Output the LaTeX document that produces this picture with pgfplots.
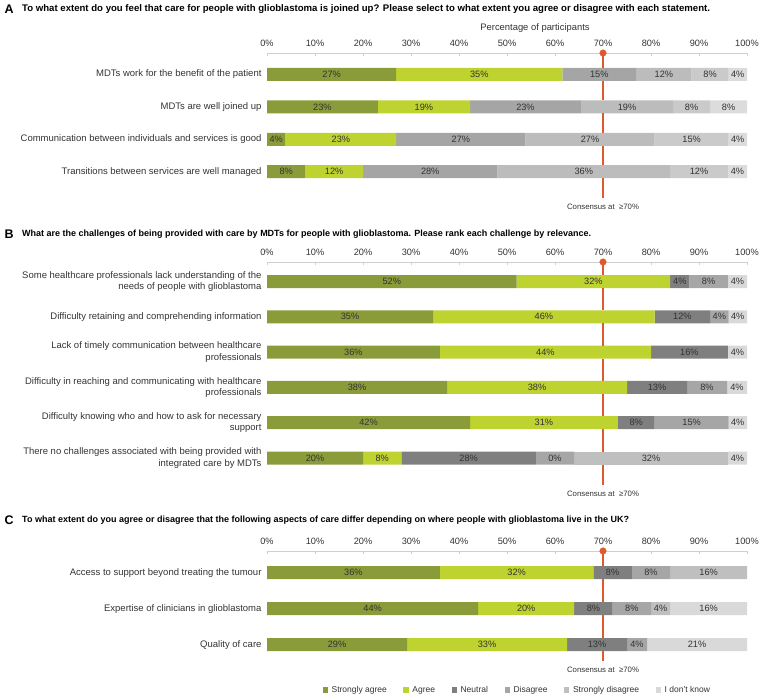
\documentclass[border=0pt]{standalone}
\usepackage{fontspec}
\setmainfont{Liberation Sans}
\usepackage{pgfplots}
\usepackage{pgfplotstable}
\pgfplotsset{compat=1.18}

\definecolor{csa}{HTML}{8A9B3A}
\definecolor{ca}{HTML}{BED230}
\definecolor{cn}{HTML}{7F7F7F}
\definecolor{cd}{HTML}{A6A6A6}
\definecolor{csd}{HTML}{BFBFBF}
\definecolor{cidk}{HTML}{D9D9D9}
\definecolor{ga}{HTML}{A5A5A5}
\definecolor{gb}{HTML}{BCBCBC}
\definecolor{gc}{HTML}{CACACA}
\definecolor{gd}{HTML}{DCDCDC}
\definecolor{cons}{HTML}{DD5A2E}
\definecolor{txt}{HTML}{333333}
\definecolor{axc}{HTML}{CFCFCF}

% Panel A (values = share of respondents, %)
\pgfplotstableread{
row sa a g1 g2 g3 g4
0 26.923 34.615 15.385 11.538 7.692 3.846
-1 23.077 19.231 23.077 19.231 7.692 7.692
-2 3.846 23.077 26.923 26.923 15.385 3.846
-3 8 12 28 36 12 4
}\tabA
\pgfplotstableread{
x y lab
13.462 0 27
44.231 0 35
69.231 0 15
82.692 0 12
92.308 0 8
98.077 0 4
11.538 -1 23
32.692 -1 19
53.846 -1 23
75.000 -1 19
88.462 -1 8
96.154 -1 8
1.923 -2 4
15.385 -2 23
40.385 -2 27
67.308 -2 27
88.462 -2 15
98.077 -2 4
4 -3 8
14 -3 12
34 -3 28
66 -3 36
90 -3 12
98 -3 4
}\labA

% Panel B
\pgfplotstableread{
row sa a n d sd idk
0 52 32 4 8 0 4
-1 34.615 46.154 11.538 3.846 0 3.846
-2 36 44 16 0 0 4
-3 37.5 37.5 12.5 8.333 0 4.167
-4 42.308 30.769 7.692 15.385 0 3.846
-5 20 8 28 8 32 4
}\tabB
\pgfplotstableread{
x y lab
26 0 52
68 0 32
86 0 4
92 0 8
98 0 4
17.308 -1 35
57.692 -1 46
86.538 -1 12
94.231 -1 4
98.077 -1 4
18 -2 36
58 -2 44
88 -2 16
98 -2 4
18.75 -3 38
56.25 -3 38
81.25 -3 13
91.667 -3 8
97.917 -3 4
21.154 -4 42
57.692 -4 31
76.923 -4 8
88.462 -4 15
98.077 -4 4
10 -5 20
24 -5 8
42 -5 28
60 -5 0
80 -5 32
98 -5 4
}\labB

% Panel C
\pgfplotstableread{
row sa a n d sd idk
0 36 32 8 8 16 0
-1 44 20 8 8 4 16
-2 29.167 33.333 12.5 4.167 0 20.833
}\tabC
\pgfplotstableread{
x y lab
18 0 36
52 0 32
72 0 8
80 0 8
92 0 16
22 -1 44
54 -1 20
68 -1 8
76 -1 8
82 -1 4
92 -1 16
14.583 -2 29
45.833 -2 33
68.75 -2 13
77.083 -2 4
89.583 -2 21
}\labC

\pgfplotsset{
  base/.style={scale only axis, width=480pt, xmin=0, xmax=100, enlargelimits=false, clip=false},
  over/.style={base, hide axis},
  bars/.style={
    base, xbar stacked, bar width=13pt,
    axis x line*=top, axis y line*=left,
    y axis line style={draw=none}, ytick style={draw=none},
    x axis line style={draw=axc, line width=0.6pt},
    xtick={0,10,...,100},
    xticklabels={0\%,10\%,20\%,30\%,40\%,50\%,60\%,70\%,80\%,90\%,100\%},
    xtick style={draw=axc, line width=0.6pt},
    major tick length=3pt, tick align=inside,
    xticklabel style={font=\fontsize{9.2}{10}\selectfont, text=txt, anchor=base, yshift=6.5pt},
    yticklabel style={font=\fontsize{9.5}{11.5}\selectfont, text=txt, align=right, xshift=-2pt},
  },
  seg/.style={draw=none, legend image code/.code={\fill (0pt,-2.6pt) rectangle (5.2pt,2.6pt); \path (-0.5pt,0pt) (7pt,0pt);}},
  labs/.style={only marks, mark=*, mark size=0pt, mark options={draw=none, fill=none},
    nodes near coords={\pgfplotspointmeta\%}, point meta=explicit symbolic,
    every node near coord/.append style={anchor=center, font=\fontsize{9.2}{10}\selectfont, text=txt}},
  reddot/.style={only marks, mark=*, mark size=3.3pt, color=cons},
}
\tikzset{consl/.style={below=2.5pt, font=\fontsize{7.8}{9}\selectfont, text=txt},
  redline/.style={draw=cons, line width=1.1pt}}

\begin{document}
\begin{tikzpicture}
\useasboundingbox (0,0) rectangle (759pt,697pt);

% ---------- titles ----------
\node[anchor=west, inner sep=0pt, font=\bfseries\fontsize{12.5}{14}\selectfont] at (4.5pt,688pt) {A};
\node[anchor=west, inner sep=0pt, font=\bfseries\fontsize{9.6}{11}\selectfont] at (22pt,688pt) {To what extent do you feel that care for people with glioblastoma is joined up? Please select to what extent you agree or disagree with each statement.};
\node[font=\fontsize{9.4}{11}\selectfont, text=txt] at (535pt,669pt) {Percentage of participants};

\node[anchor=west, inner sep=0pt, font=\bfseries\fontsize{12.5}{14}\selectfont] at (4.5pt,463pt) {B};
\node[anchor=west, inner sep=0pt, font=\bfseries\fontsize{9.0}{11}\selectfont] at (22pt,463pt) {What are the challenges of being provided with care by MDTs for people with glioblastoma. Please rank each challenge by relevance.};

\node[anchor=west, inner sep=0pt, font=\bfseries\fontsize{12.5}{14}\selectfont] at (4.5pt,177pt) {C};
\node[anchor=west, inner sep=0pt, font=\bfseries\fontsize{9.0}{11}\selectfont] at (22pt,177pt) {To what extent do you agree or disagree that the following aspects of care differ depending on where people with glioblastoma live in the UK?};

% ---------- Panel A ----------
\begin{axis}[bars, at={(267pt,644pt)}, anchor=north west, height=145pt, ymin=-3.8117, ymax=0.6636,
  ytick={-3,-2,-1,0},
  yticklabels={{Transitions between services are well managed},{Communication between individuals and services is good},{MDTs are well joined up},{MDTs work for the benefit of the patient}}]
\addplot[seg, fill=csa] table[x=sa,y=row]{\tabA};
\addplot[seg, fill=ca] table[x=a,y=row]{\tabA};
\addplot[seg, fill=ga] table[x=g1,y=row]{\tabA};
\addplot[seg, fill=gb] table[x=g2,y=row]{\tabA};
\addplot[seg, fill=gc] table[x=g3,y=row]{\tabA};
\addplot[seg, fill=gd] table[x=g4,y=row]{\tabA};
\end{axis}
\begin{axis}[over, at={(267pt,644pt)}, anchor=north west, height=145pt, ymin=-3.8117, ymax=0.6636]
% consensus line, visible only between the bars (bars lie over it)
\draw[redline] (axis cs:70,0.6636) -- (axis cs:70,0.2006)
  (axis cs:70,-0.2006) -- (axis cs:70,-0.7994)
  (axis cs:70,-1.2006) -- (axis cs:70,-1.7994)
  (axis cs:70,-2.2006) -- (axis cs:70,-2.7994)
  (axis cs:70,-3.2006) -- (axis cs:70,-3.8117);
\addplot[labs] table[x=x,y=y,meta=lab]{\labA};
\addplot[reddot] coordinates {(70,0.6636)};
\node[consl] at (axis cs:70,-3.8117) {Consensus at\ \ ≥70\%};
\end{axis}

% ---------- Panel B ----------
\begin{axis}[bars, at={(267pt,435pt)}, anchor=north west, height=223pt, ymin=-5.7649, ymax=0.5524,
  ytick={-5,-4,-3,-2,-1,0},
  yticklabels={{There no challenges associated with being provided with\\integrated care by MDTs},
    {Difficulty knowing who and how to ask for necessary\\support},
    {Difficulty in reaching and communicating with healthcare\\professionals},
    {Lack of timely communication between healthcare\\professionals},
    {Difficulty retaining and comprehending information},
    {Some healthcare professionals lack understanding of the\\needs of people with glioblastoma}}]
\addplot[seg, fill=csa] table[x=sa,y=row]{\tabB};
\addplot[seg, fill=ca] table[x=a,y=row]{\tabB};
\addplot[seg, fill=cn] table[x=n,y=row]{\tabB};
\addplot[seg, fill=cd] table[x=d,y=row]{\tabB};
\addplot[seg, fill=csd] table[x=sd,y=row]{\tabB};
\addplot[seg, fill=cidk] table[x=idk,y=row]{\tabB};
\end{axis}
\begin{axis}[over, at={(267pt,435pt)}, anchor=north west, height=223pt, ymin=-5.7649, ymax=0.5524]
\draw[redline] (axis cs:70,0.5524) -- (axis cs:70,0.1841)
  (axis cs:70,-0.1841) -- (axis cs:70,-0.8159)
  (axis cs:70,-1.1841) -- (axis cs:70,-1.8159)
  (axis cs:70,-2.1841) -- (axis cs:70,-2.8159)
  (axis cs:70,-3.1841) -- (axis cs:70,-3.8159)
  (axis cs:70,-4.1841) -- (axis cs:70,-4.8159)
  (axis cs:70,-5.1841) -- (axis cs:70,-5.7649);
\addplot[labs] table[x=x,y=y,meta=lab]{\labB};
\addplot[reddot] coordinates {(70,0.5524)};
\node[consl] at (axis cs:70,-5.7649) {Consensus at\ \ ≥70\%};
\end{axis}

% ---------- Panel C ----------
\begin{axis}[bars, at={(267pt,146pt)}, anchor=north west, height=110pt, ymin=-2.4528, ymax=0.6028,
  ytick={-2,-1,0},
  yticklabels={{Quality of care},{Expertise of clinicians in glioblastoma},{Access to support beyond treating the tumour}},
  legend columns=6,
  legend cell align=left,
  legend style={draw=none, fill=none, at={(0.521,-0.2636)}, anchor=center,
    font=\fontsize{8.5}{10}\selectfont, text=txt,
    /tikz/every even column/.append style={column sep=14pt}}]
\addplot[seg, fill=csa] table[x=sa,y=row]{\tabC};
\addplot[seg, fill=ca] table[x=a,y=row]{\tabC};
\addplot[seg, fill=cn] table[x=n,y=row]{\tabC};
\addplot[seg, fill=cd] table[x=d,y=row]{\tabC};
\addplot[seg, fill=csd] table[x=sd,y=row]{\tabC};
\addplot[seg, fill=cidk] table[x=idk,y=row]{\tabC};
\legend{Strongly agree, Agree, Neutral, Disagree, Strongly disagree, I don't know}
\end{axis}
\begin{axis}[over, at={(267pt,146pt)}, anchor=north west, height=110pt, ymin=-2.4528, ymax=0.6028]
\draw[redline] (axis cs:70,0.6028) -- (axis cs:70,0.1806)
  (axis cs:70,-0.1806) -- (axis cs:70,-0.8194)
  (axis cs:70,-1.1806) -- (axis cs:70,-1.8194)
  (axis cs:70,-2.1806) -- (axis cs:70,-2.4528);
\addplot[labs] table[x=x,y=y,meta=lab]{\labC};
\addplot[reddot] coordinates {(70,0.6028)};
\node[consl] at (axis cs:70,-2.4528) {Consensus at\ \ ≥70\%};
\end{axis}
\end{tikzpicture}
\end{document}
